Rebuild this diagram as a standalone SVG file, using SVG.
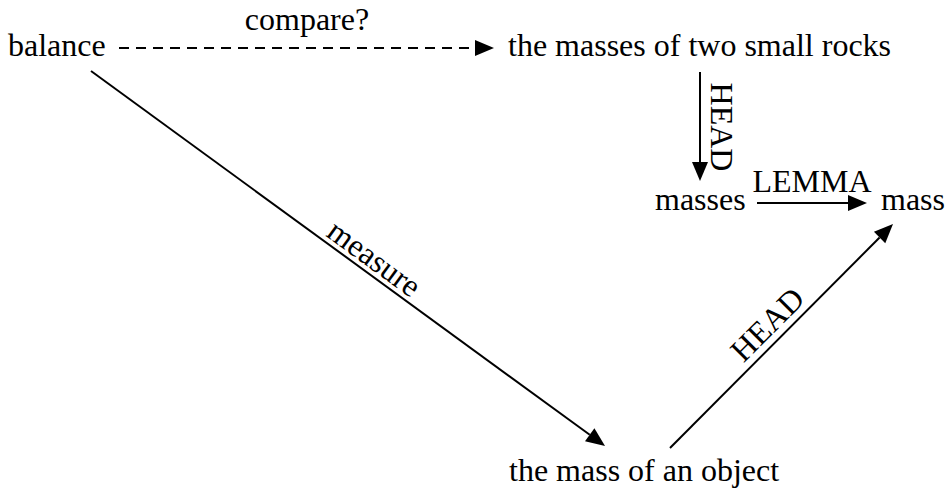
<svg xmlns="http://www.w3.org/2000/svg" width="947" height="491" viewBox="0 0 947 491">
<style>
  text { font-family: 'Liberation Serif', 'Times New Roman', Tinos, 'DejaVu Serif', serif; font-size: 32px; fill: #000; }
  .edge { stroke: #000; stroke-width: 2; fill: none; marker-end: url(#arrow); }
  .dashed { stroke-dasharray: 10 7; }
</style>
<defs>
  <marker id="arrow" markerUnits="userSpaceOnUse" markerWidth="19" markerHeight="16" refX="0" refY="8" orient="auto" overflow="visible">
    <path d="M0,0 L19,8 L0,16 z" fill="#000"/>
  </marker>
</defs>
<rect width="947" height="491" fill="#fff"/>
<g id="connectors">
  <g id="e-compare">
    <path class="edge dashed" d="M119,48 L475,48"/>
    <text x="307" y="30" text-anchor="middle" font-family="Liberation Serif, serif">compare?</text>
  </g>
  <g id="e-measure">
    <path class="edge" d="M91,71 L589.7,434.8"/>
    <text x="368" y="267" text-anchor="middle" transform="rotate(36.1 368 267)" font-family="Liberation Serif, serif">measure</text>
  </g>
  <g id="e-head1">
    <path class="edge" d="M700,72 L700,162"/>
    <text x="711" y="127" text-anchor="middle" transform="rotate(90 711 127)" font-family="Liberation Serif, serif">HEAD</text>
  </g>
  <g id="e-lemma">
    <path class="edge" d="M757,203 L848,203"/>
    <text x="812" y="192" text-anchor="middle" font-family="Liberation Serif, serif">LEMMA</text>
  </g>
  <g id="e-head2">
    <path class="edge" d="M670,448 L879.6,237.5"/>
    <text x="775" y="332" text-anchor="middle" transform="rotate(-45 775 332)" font-family="Liberation Serif, serif">HEAD</text>
  </g>
</g>
<g id="n-balance"><text x="8" y="56" font-family="Liberation Serif, serif">balance</text></g>
<g id="n-rocks"><text x="508" y="56" font-family="Liberation Serif, serif">the masses of two small rocks</text></g>
<g id="n-masses"><text x="655" y="210" font-family="Liberation Serif, serif">masses</text></g>
<g id="n-mass"><text x="881" y="210" font-family="Liberation Serif, serif">mass</text></g>
<g id="n-object"><text x="509" y="481" font-family="Liberation Serif, serif">the mass of an object</text></g>
</svg>
